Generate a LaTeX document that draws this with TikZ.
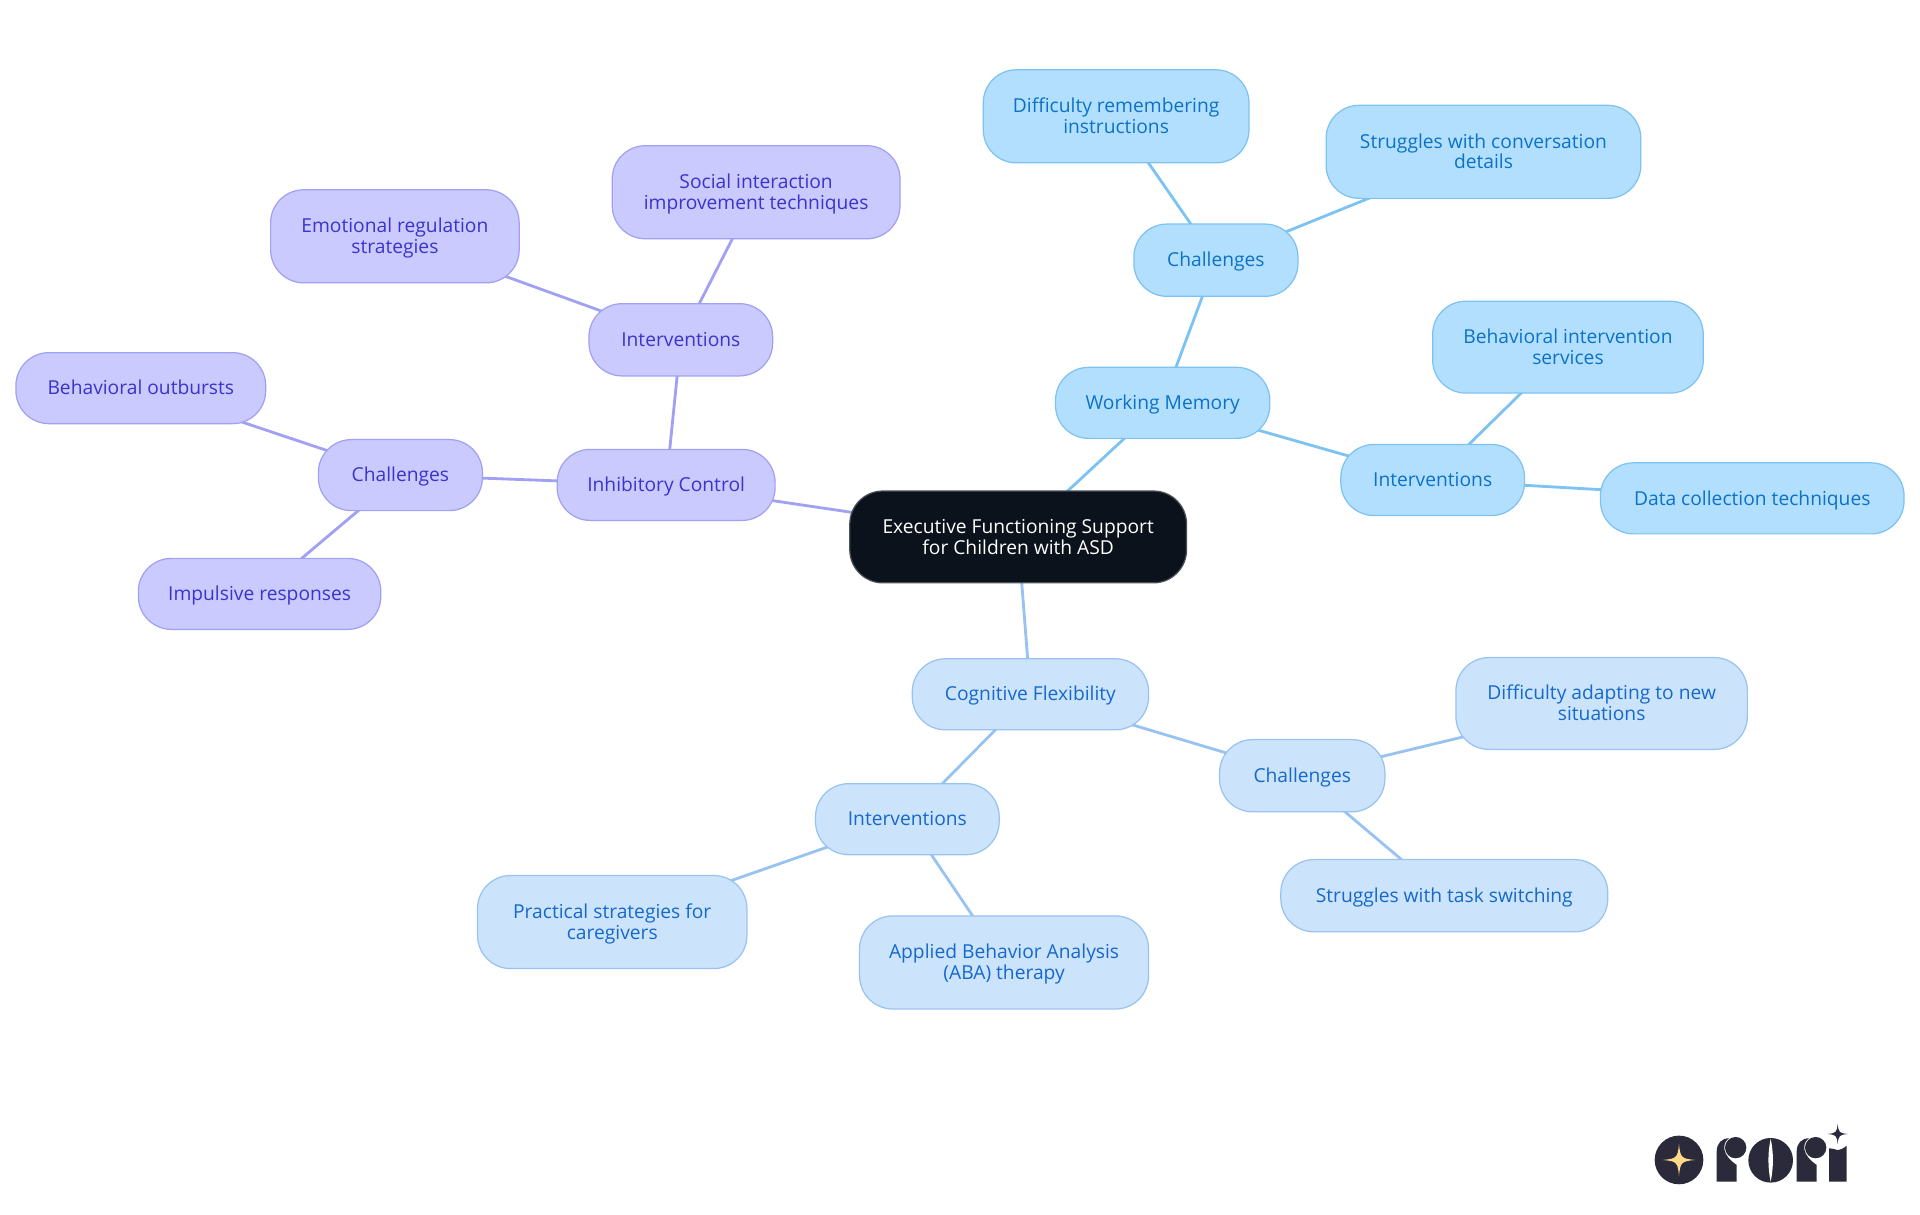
\documentclass[tikz,border=0pt]{standalone}
\usepackage{fontspec}
\setmainfont{Open Sans}
\usetikzlibrary{backgrounds}

\definecolor{rootfill}{HTML}{0B121B}
\definecolor{rootdraw}{HTML}{4A4F57}
\definecolor{wmfill}{HTML}{B3DFFF}
\definecolor{wmdraw}{HTML}{7CC2F2}
\definecolor{wmtext}{HTML}{0B72C6}
\definecolor{cffill}{HTML}{CCE3FC}
\definecolor{cfdraw}{HTML}{98C3F0}
\definecolor{cftext}{HTML}{1569CC}
\definecolor{icfill}{HTML}{CACAFF}
\definecolor{icdraw}{HTML}{A0A0F4}
\definecolor{ictext}{HTML}{3A34CC}
\definecolor{logodark}{HTML}{2A2A3A}
\definecolor{logostar}{HTML}{FFD98A}

% one star of the logo: centre x, centre y, half width, half height
\newcommand{\logosparkle}[5]{
	\fill[#5] (#1-#3, #2)
		.. controls (#1-#3*0.14, #2-#4*0.08) and (#1-#3*0.08, #2-#4*0.14) .. (#1, #2-#4)
		.. controls (#1+#3*0.08, #2-#4*0.14) and (#1+#3*0.14, #2-#4*0.08) .. (#1+#3, #2)
		.. controls (#1+#3*0.14, #2+#4*0.08) and (#1+#3*0.08, #2+#4*0.14) .. (#1, #2+#4)
		.. controls (#1-#3*0.08, #2+#4*0.14) and (#1-#3*0.14, #2+#4*0.08) .. (#1-#3, #2) -- cycle;
}

\begin{document}
\begin{tikzpicture}[
		x=1pt,
		y=-1pt,
		every node/.style={
			shape=rectangle, rounded corners=27pt, line width=1pt, inner sep=0pt,
			align=center, font=\fontsize{15.7}{17}\selectfont,
			execute at begin node={\rule{0pt}{16pt}}, execute at end node=\strut
		},
		twoline/.style={execute at begin node={\rule{0pt}{33pt}}},
		rootnode/.style={draw=rootdraw, fill=rootfill, text=white},
		wmnode/.style={draw=wmdraw, fill=wmfill, text=wmtext},
		cfnode/.style={draw=cfdraw, fill=cffill, text=cftext},
		icnode/.style={draw=icdraw, fill=icfill, text=ictext},
		wmline/.style={wmdraw, line width=2.3pt},
		cfline/.style={cfdraw, line width=2.3pt},
		icline/.style={icdraw, line width=2.3pt}
		]

	\useasboundingbox (0, 0) rectangle (1568, 992);

	% Root
	\node[rootnode, twoline, minimum width=275pt, minimum height=75pt] (root) at (831.5, 438.5) {Executive Functioning Support\\for Children with ASD};

	% Working Memory
	\node[wmnode, minimum width=175pt, minimum height=58pt] (wm) at (949.5, 329) {Working Memory};
	\node[wmnode, minimum width=134pt, minimum height=59pt] (wmchal) at (993, 212.5) {Challenges};
	\node[wmnode, twoline, minimum width=217pt, minimum height=76pt] (wmremember) at (911.5, 95) {Difficulty remembering\\instructions};
	\node[wmnode, twoline, minimum width=257pt, minimum height=76pt] (wmconv) at (1211.5, 124) {Struggles with conversation\\details};
	\node[wmnode, minimum width=150pt, minimum height=58pt] (wmint) at (1170, 392) {Interventions};
	\node[wmnode, twoline, minimum width=221pt, minimum height=75pt] (wmservices) at (1280.5, 283.5) {Behavioral intervention\\services};
	\node[wmnode, minimum width=248pt, minimum height=58pt] (wmdata) at (1431, 407) {Data collection techniques};

	% Inhibitory Control
	\node[icnode, minimum width=178pt, minimum height=58pt] (ic) at (544, 396) {Inhibitory Control};
	\node[icnode, minimum width=150pt, minimum height=59pt] (icint) at (556, 277.5) {Interventions};
	\node[icnode, twoline, minimum width=235pt, minimum height=76pt] (icsocial) at (617.5, 157) {Social interaction\\improvement techniques};
	\node[icnode, twoline, minimum width=203pt, minimum height=76pt] (icemotion) at (322.5, 193) {Emotional regulation\\strategies};
	\node[icnode, minimum width=134pt, minimum height=58pt] (icchal) at (327, 388) {Challenges};
	\node[icnode, minimum width=204pt, minimum height=58pt] (icoutburst) at (115, 317) {Behavioral outbursts};
	\node[icnode, minimum width=198pt, minimum height=58pt] (icimpulse) at (212, 485) {Impulsive responses};

	% Cognitive Flexibility
	\node[cfnode, minimum width=193pt, minimum height=58pt] (cf) at (841.5, 567) {Cognitive Flexibility};
	\node[cfnode, minimum width=135pt, minimum height=59pt] (cfchal) at (1063.5, 633.5) {Challenges};
	\node[cfnode, twoline, minimum width=238pt, minimum height=75pt] (cfadapt) at (1308, 574.5) {Difficulty adapting to new\\situations};
	\node[cfnode, minimum width=267pt, minimum height=59pt] (cfswitch) at (1179.5, 731.5) {Struggles with task switching};
	\node[cfnode, minimum width=150pt, minimum height=58pt] (cfint) at (741, 669) {Interventions};
	\node[cfnode, twoline, minimum width=220pt, minimum height=76pt] (cfpractical) at (500, 753) {Practical strategies for\\caregivers};
	\node[cfnode, twoline, minimum width=236pt, minimum height=76pt] (cfaba) at (820, 786) {Applied Behavior Analysis\\(ABA) therapy};

	% Connectors
	\begin{scope}[on background layer]
		\foreach \a/\b in {root/wm, wm/wmchal, wmchal/wmremember, wmchal/wmconv, wm/wmint, wmint/wmservices, wmint/wmdata}{
			\draw[wmline] (\a.center) -- (\b.center);
		}
		\foreach \a/\b in {root/ic, ic/icint, icint/icsocial, icint/icemotion, ic/icchal, icchal/icoutburst, icchal/icimpulse}{
			\draw[icline] (\a.center) -- (\b.center);
		}
		\foreach \a/\b in {root/cf, cf/cfchal, cfchal/cfadapt, cfchal/cfswitch, cf/cfint, cfint/cfpractical, cfint/cfaba}{
			\draw[cfline] (\a.center) -- (\b.center);
		}
	\end{scope}

	% Logo
	\begin{scope}[shift={(1323, 898.3)}, x=0.2722pt, y=-0.2722pt]
		\fill[logodark] (177, 180) circle (73);
		\logosparkle{177}{180}{49}{48}{logostar}
		\logosparkle{653}{102}{31}{31}{logodark}
		% r
		\foreach \dx in {0, 240}{
			\fill[logodark, xshift=\dx*0.2722pt] (290, 245) -- (290, 155) .. controls (290, 130) and (305, 115) .. (327, 115) .. controls (305, 130) and (305, 165) .. (350, 195) -- (350, 245) -- cycle;
			\fill[logodark, xshift=\dx*0.2722pt] (347, 143) circle (32);
		}
		% o
		\fill[logodark] (452, 181) circle (67);
		\fill[white] (452, 116) .. controls (443, 160) and (443, 200) .. (452, 246) .. controls (461, 200) and (461, 160) .. (452, 116) -- cycle;
		% i
		\fill[logodark] (627, 245) -- (627, 145) .. controls (640, 146) and (650, 150) .. (653, 150) .. controls (660, 150) and (672, 145) .. (680, 137) -- (680, 245) -- cycle;
	\end{scope}

\end{tikzpicture}
\end{document}
